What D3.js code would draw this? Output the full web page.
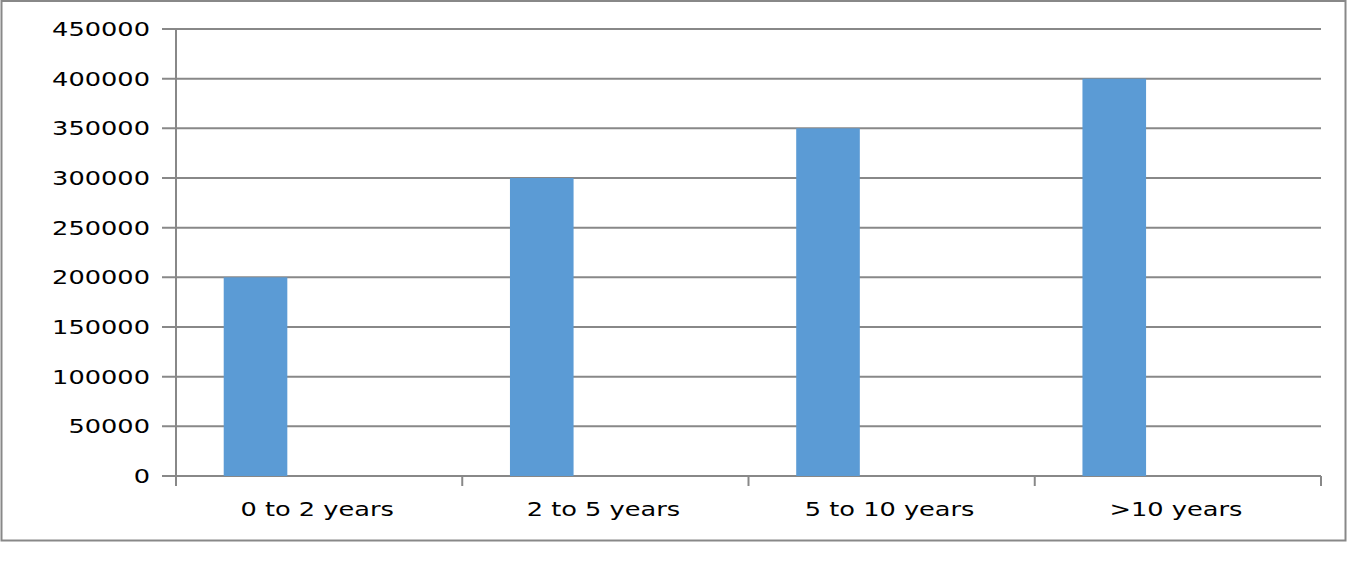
<!DOCTYPE html>
<html>
<head>
<meta charset="utf-8">
<script src="https://cdn.jsdelivr.net/npm/d3@7"></script>
<style>
  body { margin: 0; background: #fff; }
  text { font-family: "DejaVu Sans", Verdana, sans-serif; font-size: 19px; fill: #000; }
</style>
</head>
<body>
<div id="chart"></div>
<script>
// data
const categories = ["0 to 2 years", "2 to 5 years", "5 to 10 years", ">10 years"];
const values = [200000, 300000, 350000, 400000];
const yTicks = [0, 50000, 100000, 150000, 200000, 250000, 300000, 350000, 400000, 450000];

const width = 1360;
const height = 561;
const plot = { left: 176, right: 1321, top: 29, bottom: 476 };
const stretch = 1.35; // labels in the picture are drawn wide

const svg = d3.select("#chart").append("svg")
    .attr("width", width)
    .attr("height", height);

// outer frame
svg.append("rect")
    .attr("x", 1.5).attr("y", 1)
    .attr("width", 1344).attr("height", 539.5)
    .attr("fill", "none")
    .attr("stroke", "#888")
    .attr("stroke-width", 2);

const x = d3.scaleBand()
    .domain(categories)
    .range([plot.left, plot.right]);

// three slots per category, only the first one holds a bar
const slot = d3.scaleBand()
    .domain([0, 1, 2])
    .range([0, x.bandwidth()])
    .paddingInner(0)
    .paddingOuter(0.75);

const y = d3.scaleLinear()
    .domain([0, 450000])
    .range([plot.bottom, plot.top]);

// gridlines + y ticks
svg.selectAll(".grid")
    .data(yTicks)
    .enter().append("line")
    .attr("class", "grid")
    .attr("x1", plot.left - 14)
    .attr("x2", plot.right)
    .attr("y1", d => y(d))
    .attr("y2", d => y(d))
    .attr("stroke", "#888")
    .attr("stroke-width", 2);

svg.selectAll(".ylabel")
    .data(yTicks)
    .enter().append("text")
    .attr("class", "ylabel")
    .attr("transform", d => "translate(150," + y(d) + ") scale(" + stretch + ",1)")
    .attr("text-anchor", "end")
    .attr("dy", "0.36em")
    .text(d => d);

// bars
svg.selectAll(".bar")
    .data(values)
    .enter().append("rect")
    .attr("class", "bar")
    .attr("x", (d, i) => x(categories[i]) + slot(0))
    .attr("width", slot.bandwidth())
    .attr("y", d => y(d))
    .attr("height", d => y(0) - y(d))
    .attr("fill", "#5B9BD5");

// axes lines
svg.append("line")
    .attr("x1", plot.left).attr("x2", plot.left)
    .attr("y1", plot.top).attr("y2", plot.bottom + 10)
    .attr("stroke", "#888").attr("stroke-width", 2);

const xTicks = categories.map(c => x(c)).concat([plot.right]);
svg.selectAll(".xtick")
    .data(xTicks)
    .enter().append("line")
    .attr("class", "xtick")
    .attr("x1", d => d).attr("x2", d => d)
    .attr("y1", plot.bottom).attr("y2", plot.bottom + 10)
    .attr("stroke", "#888").attr("stroke-width", 2);

svg.selectAll(".xlabel")
    .data(categories)
    .enter().append("text")
    .attr("class", "xlabel")
    .attr("transform", d => "translate(" + (x(d) + x.bandwidth() / 2 - 2) + ",516) scale(" + stretch + ",1)")
    .attr("text-anchor", "middle")
    .text(d => d);
</script>
</body>
</html>
